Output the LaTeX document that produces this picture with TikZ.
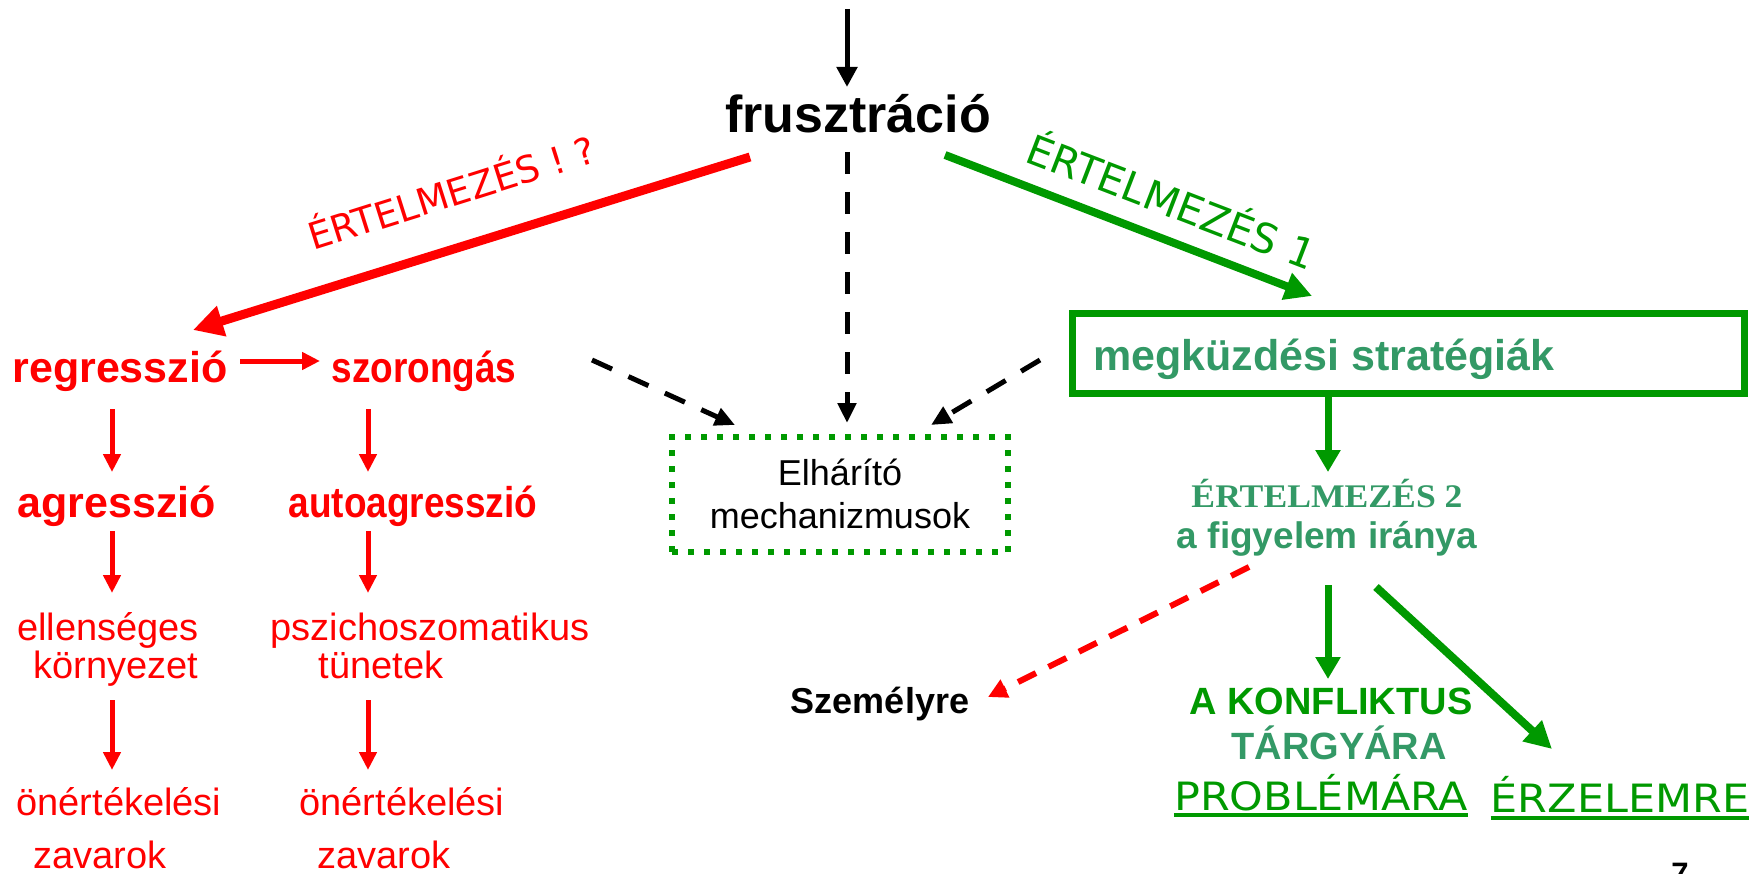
\documentclass[tikz,border=0pt]{standalone}
\usepackage{fontspec}
\setmainfont{Liberation Sans}
\newfontfamily\lsnarrow[FakeStretch=0.86]{Liberation Sans}
\newfontfamily\dvs{DejaVu Sans}
\newfontfamily\dvsw[FakeStretch=1.1]{DejaVu Sans}
\newfontfamily\tmsb[FakeStretch=1.08]{Liberation Serif}
\usetikzlibrary{arrows.meta}
\definecolor{rd}{RGB}{255,0,0}
\definecolor{gr}{RGB}{0,153,0}
\definecolor{tl}{RGB}{51,153,102}
\newcommand\fsz[1]{\fontsize{#1}{#1}\selectfont}
\begin{document}
\begin{tikzpicture}[x=1pt,y=-1pt,
  lbl/.style={inner sep=0pt, anchor=base},
  redbig/.style={lbl, text=rd, font=\fsz{43}\bfseries},
  rednarrow/.style={lbl, text=rd, font=\fsz{43}\lsnarrow\bfseries},
  rednorm/.style={lbl, text=rd, font=\fsz{38}},
  smallred/.style={draw=rd, line width=5pt, -{Triangle[length=18pt,width=17pt]}},
  blackdash/.style={draw=black, line width=5pt, dash pattern=on 22pt off 18pt, -{Triangle[length=20pt,width=18pt]}},
  greenarr/.style={draw=gr, line width=7pt, -{Triangle[length=22pt,width=24pt]}}]
\useasboundingbox (0,0) rectangle (1763,874);

% ---- top ----
\coordinate (topin) at (847,9);
\node[lbl, font=\fsz{52}\bfseries] (frus) at (858,133) {frusztráció};
\coordinate (frusS) at (847,87);
\draw[line width=5pt, -{Triangle[length=20pt,width=20pt]}] (topin) -- (frusS);

% ---- left branch ----
\coordinate (redA) at (750,157);
\coordinate (redB) at (193,330);
\draw[draw=rd, line width=9pt, -{Triangle[length=30pt,width=30pt]}] (redA) -- (redB);
\node[lbl, text=rd, font=\fsz{37}\dvs, rotate=17.5] (lblred) at (456,206) {ÉRTELMEZÉS ! ?};

\node[redbig] (regr) at (120,382) {regresszió};
\node[rednarrow] (szor) at (424,382) {szorongás};
\coordinate (regrE) at (240,361);
\coordinate (szorW) at (320,361);
\draw[smallred] (regrE) -- (szorW);

\node[redbig] (agr) at (117,517) {agresszió};
\node[rednarrow] (autoagr) at (413,517) {autoagresszió};
\coordinate (c1a) at (112,409); \coordinate (c1b) at (112,472);
\coordinate (c2a) at (368,409); \coordinate (c2b) at (368,472);
\draw[smallred] (c1a) -- (c1b);
\draw[smallred] (c2a) -- (c2b);

\node[rednorm] (ell1) at (108,640) {ellenséges};
\node[rednorm] (ell2) at (116,678) {környezet};
\node[rednorm] (psz1) at (430,640) {pszichoszomatikus};
\node[rednorm] (psz2) at (381,678) {tünetek};
\coordinate (c3a) at (112,531); \coordinate (c3b) at (112,593);
\coordinate (c4a) at (368,531); \coordinate (c4b) at (368,593);
\draw[smallred] (c3a) -- (c3b);
\draw[smallred] (c4a) -- (c4b);

\node[rednorm] (one1) at (119,815) {önértékelési};
\node[rednorm] (zav1) at (100,868) {zavarok};
\node[rednorm] (one2) at (402,815) {önértékelési};
\node[rednorm] (zav2) at (384,868) {zavarok};
\coordinate (c5a) at (112,700); \coordinate (c5b) at (112,770);
\coordinate (c6a) at (368,700); \coordinate (c6b) at (368,770);
\draw[smallred] (c5a) -- (c5b);
\draw[smallred] (c6a) -- (c6b);

% ---- middle ----
\node[draw=gr, line width=6pt, dash pattern=on 6pt off 10pt, minimum width=336pt, minimum height=115pt, inner sep=0pt] (elhbox) at (840,494.5) {};
\node[lbl, font=\fsz{36}] (elh1) at (840,485) {Elhárító};
\node[lbl, font=\fsz{36}] (elh2) at (840,528) {mechanizmusok};
\coordinate (dA) at (847,152); \coordinate (dB) at (847,423);
\draw[blackdash] (dA) -- (dB);
\coordinate (sA) at (592,360); \coordinate (sB) at (735,425);
\draw[blackdash] (sA) -- (sB);
\coordinate (mA) at (1040,360); \coordinate (mB) at (931,425);
\draw[blackdash] (mA) -- (mB);

% ---- right branch ----
\coordinate (grA) at (945,155);
\coordinate (grB) at (1312,296);
\draw[draw=gr, line width=8pt, -{Triangle[length=27pt,width=27pt]}] (grA) -- (grB);
\node[lbl, text=gr, font=\fsz{41}\dvs, rotate=-21] (lblgr) at (1166,216) {ÉRTELMEZÉS 1};

\node[draw=gr, line width=7pt, minimum width=672pt, minimum height=80pt, inner sep=0pt] (megbox) at (1408,353.5) {};
\node[lbl, text=tl, font=\fsz{43}\bfseries] (meg) at (1324,370) {megküzdési stratégiák};
\coordinate (mbS) at (1328,394);
\coordinate (e2N) at (1328,472);
\draw[greenarr] (mbS) -- (e2N);

\node[lbl, text=tl, font=\fsz{33}\tmsb\bfseries] (ert2) at (1327,507) {ÉRTELMEZÉS 2};
\node[lbl, text=tl, font=\fsz{37}\bfseries] (figy) at (1327,548) {a figyelem iránya};

\coordinate (rdA) at (1249,567);
\coordinate (rdB) at (988,697);
\draw[draw=rd, line width=6pt, dash pattern=on 20pt off 14pt, -{Triangle[length=19pt,width=19pt]}] (rdA) -- (rdB);
\node[lbl, font=\fsz{36}\bfseries] (szem) at (880,713) {Személyre};

\coordinate (vA) at (1328,585);
\coordinate (vB) at (1328,679);
\draw[greenarr] (vA) -- (vB);
\coordinate (dgA) at (1376,587);
\coordinate (dgB) at (1552,749);
\draw[draw=gr, line width=8pt, -{Triangle[length=27pt,width=27pt]}] (dgA) -- (dgB);

\node[lbl, text=gr, font=\fsz{38}\bfseries] (konf) at (1331,714) {A KONFLIKTUS};
\node[lbl, text=tl, font=\fsz{38}\bfseries] (targy) at (1339,759) {TÁRGYÁRA};
\node[lbl, text=gr, font=\fsz{39}\dvsw] (prob) at (1321,810) {PROBLÉMÁRA};
\node[lbl, text=gr, font=\fsz{39}\dvsw] (erz) at (1620,812) {ÉRZELEMRE};
\draw[gr, line width=3.5pt] (prob.base west |- 0,815) -- (prob.base east |- 0,815);
\draw[gr, line width=3.5pt] (erz.base west |- 0,818) -- (erz.base east |- 0,818);

\node[lbl, font=\fsz{31}\bfseries] (pg) at (1680,884) {7};
\end{tikzpicture}
\end{document}
